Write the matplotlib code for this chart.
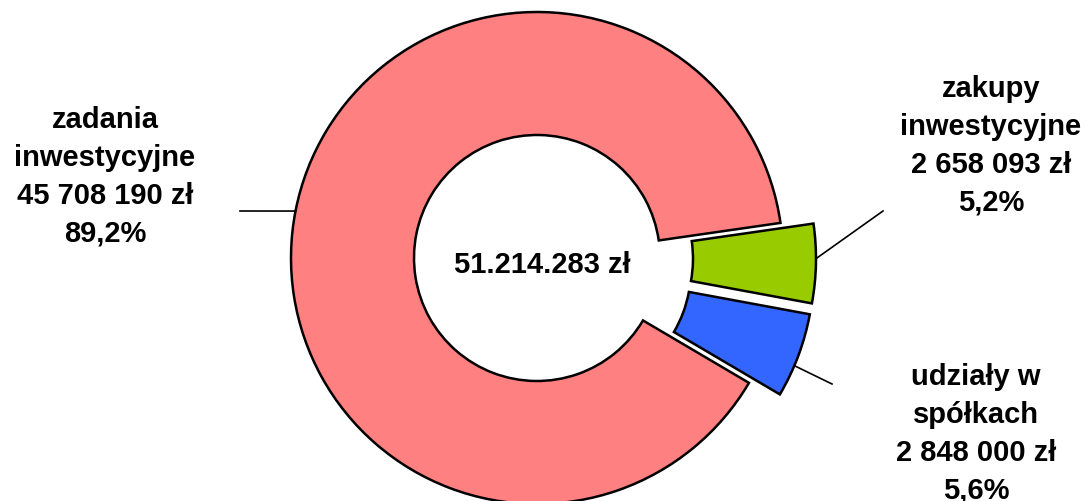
import numpy as np
import matplotlib
matplotlib.use("Agg")
import matplotlib.pyplot as plt

# data
names = ["zadania\ninwestycyjne", "zakupy\ninwestycyjne", "udziały w\nspółkach"]
values = [45708190, 2658093, 2848000]
colors = ["#FF8080", "#99CC00", "#3366FF"]
explode_px = [0, 33, 33]

# layout (pixel space, y measured from bottom)
W, H = 1088, 502
cx, cy = 537, H - 259
radius = 246
hole = 0.5
start_angle = -30.5

label_pos = [(105, H - 177), (991, H - 146), (976, H - 434)]
leader_angle = [169, 0, -23]
leader_end = [(240, H - 212), (883, H - 212), (832, H - 385)]


def fmt_pln(v, sep=" "):
    return f"{v:,}".replace(",", sep) + " zł"


total = sum(values)
fig = plt.figure(figsize=(W / 100, H / 100), dpi=100)
ax = fig.add_axes([0, 0, 1, 1])

wedges, _ = ax.pie(
    values,
    colors=colors,
    explode=explode_px,
    radius=radius,
    center=(cx, cy),
    startangle=start_angle,
    counterclock=False,
    wedgeprops=dict(width=radius * hole, edgecolor="black", linewidth=1.8),
)

font = dict(family=["Liberation Sans", "DejaVu Sans"], fontweight="bold", fontsize=21)

for i, w in enumerate(wedges):
    wx, wy = w.center
    a = np.deg2rad(leader_angle[i])
    sx, sy = wx + radius * np.cos(a), wy + radius * np.sin(a)
    ex, ey = leader_end[i]
    ax.plot([sx, ex], [sy, ey], color="black", lw=1.2)
    pct = f"{values[i] / total * 100:.1f}".replace(".", ",") + "%"
    txt = f"{names[i]}\n{fmt_pln(values[i])}\n{pct}"
    ax.text(*label_pos[i], txt, ha="center", va="center", linespacing=1.45, **font)

ax.text(cx + 5, cy - 6, fmt_pln(total, "."), ha="center", va="center", **font)

ax.set_xlim(0, W)
ax.set_ylim(0, H)
ax.set_aspect("equal")
ax.axis("off")

fig.savefig("out.png", dpi=100)
